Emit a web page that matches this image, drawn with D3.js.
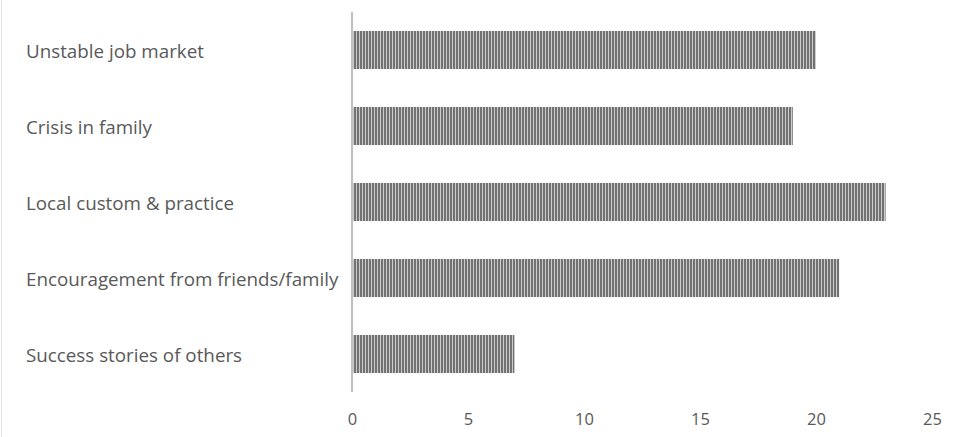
<!DOCTYPE html>
<html lang="en">
<head>
<meta charset="UTF-8">
<title>Reasons</title>
<script src="https://d3js.org/d3.v7.min.js"></script>
<style>
    body { margin: 0; background: #fff; }
    svg { display: block; }
    .label { font-family: "Open Sans", sans-serif; font-size: 18.8px; fill: #595959; }
    .tick text { font-family: "Open Sans", sans-serif; font-size: 16.5px; fill: #595959; }
</style>
</head>
<body>
<svg width="960" height="437"></svg>
<script>
    // Data
    const categories = [
        "Unstable job market",
        "Crisis in family",
        "Local custom & practice",
        "Encouragement from friends/family",
        "Success stories of others"
    ];
    const values = [20, 19, 23, 21, 7];
    const tickValues = [0, 5, 10, 15, 20, 25];

    const data = categories.map((c, i) => ({category: c, value: values[i]}));

    const svg = d3.select("svg");

    // faint border on the left
    svg.append("line")
        .attr("x1", 1.5).attr("x2", 1.5)
        .attr("y1", 0).attr("y2", 437)
        .attr("stroke", "#e6e6e6")
        .attr("stroke-width", 1);

    // stripe pattern for bars
    const defs = svg.append("defs");
    const pat = defs.append("pattern")
        .attr("id", "stripes")
        .attr("patternUnits", "userSpaceOnUse")
        .attr("width", 3)
        .attr("height", 10);
    pat.append("rect").attr("width", 3).attr("height", 10).attr("fill", "#cccccc");
    pat.append("rect").attr("x", 0).attr("width", 2).attr("height", 10).attr("fill", "#727272");

    const x = d3.scaleLinear()
        .domain([0, 25])
        .range([352, 932]);

    const y = d3.scaleBand()
        .domain(categories)
        .range([12, 392])
        .paddingInner(0.5)
        .paddingOuter(0.25);

    // bars
    svg.selectAll(".bar")
        .data(data)
        .enter()
        .append("rect")
        .attr("class", "bar")
        .attr("x", x(0))
        .attr("y", d => y(d.category))
        .attr("width", d => x(d.value) - x(0))
        .attr("height", y.bandwidth())
        .attr("fill", "url(#stripes)");

    // vertical axis line
    svg.append("line")
        .attr("x1", x(0)).attr("x2", x(0))
        .attr("y1", 12).attr("y2", 392)
        .attr("stroke", "#bfbfbf")
        .attr("stroke-width", 2);

    // category labels, left aligned
    svg.selectAll(".label")
        .data(categories)
        .enter()
        .append("text")
        .attr("class", "label")
        .attr("x", 26)
        .attr("y", d => y(d) + y.bandwidth() / 2 + 1)
        .attr("dy", "0.35em")
        .text(d => d);

    // bottom axis, labels only
    const xAxis = svg.append("g")
        .attr("transform", "translate(0,405)")
        .call(d3.axisBottom(x).tickValues(tickValues).tickSize(0).tickPadding(8));
    xAxis.select(".domain").remove();
</script>
</body>
</html>
